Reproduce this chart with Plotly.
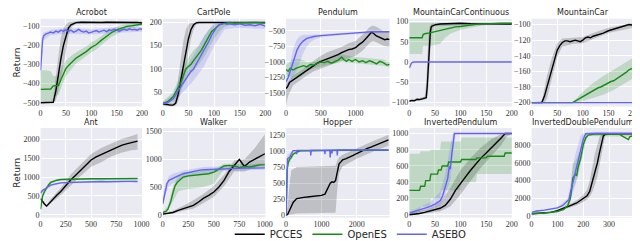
import plotly.graph_objects as go

# ---------------- Acrobot ----------------
ACRO_X_PCCES = [0,10,20,25,30,35,40,45,50,55,60,65,70,80,90,100,110,120,130,140,150,160,170,180,190,200]
ACRO_PCCES = [-500,-500,-500,-498,-440,-350,-270,-200,-150,-108,-92,-85,-80,-78,-79,-77,-78,-80,-78,-79,-80,-78,-79,-80,-79,-82]
ACRO_PCCES_LO = [-500,-500,-500,-500,-490,-440,-380,-310,-230,-150,-110,-95,-88,-84,-85,-83,-84,-86,-84,-85,-86,-84,-85,-86,-85,-88]
ACRO_PCCES_HI = [-500,-500,-495,-470,-360,-250,-160,-110,-90,-80,-77,-75,-73,-72,-73,-71,-72,-74,-72,-73,-74,-72,-73,-74,-73,-76]

ACRO_X_OPENES = [0,10,20,25,35,40,45,50,55,60,65,70,80,90,100,110,120,130,140,150,160,170,180,190,200]
ACRO_OPENES = [-430,-430,-428,-412,-410,-380,-345,-320,-305,-292,-280,-266,-249,-232,-210,-195,-172,-152,-132,-118,-108,-100,-97,-92,-88]
ACRO_OPENES_LO = [-500,-500,-500,-470,-460,-430,-390,-360,-340,-325,-310,-295,-275,-255,-235,-220,-198,-175,-155,-140,-128,-115,-108,-102,-97]
ACRO_OPENES_HI = [-330,-330,-335,-360,-360,-330,-300,-280,-265,-255,-245,-235,-220,-205,-185,-170,-148,-130,-112,-100,-92,-88,-85,-82,-80]

ACRO_X_ASEBO = [0,2,4,6,10,15,20,25,30,35,40,45,50,55,60,65,70,75,80,85,90,95,100,105,110,115,120,125,130,135,140,145,150,155,160,165,170,175,180,185,190,195,200]
ACRO_ASEBO = [-330,-220,-170,-150,-140,-135,-130,-135,-125,-130,-120,-125,-118,-125,-120,-130,-125,-115,-125,-130,-125,-135,-130,-128,-122,-130,-125,-120,-128,-118,-122,-115,-120,-125,-118,-115,-120,-113,-118,-115,-120,-113,-115]
ACRO_BX_ASEBO = [0,5,20,50,100,150,200]
ACRO_ASEBO_LO = [-380,-175,-145,-138,-142,-133,-128]
ACRO_ASEBO_HI = [-280,-135,-118,-108,-115,-105,-102]

# ---------------- CartPole ----------------
CP_X_PCCES = [0,5,10,15,20,25,30,35,40,45,50,55,60,65,70,100,150,200]
CP_PCCES = [25,24,22,22,22,26,45,75,100,135,165,185,195,199,200,200,200,200]
CP_PCCES_LO = [22,20,19,19,19,21,30,50,70,100,135,165,185,195,198,200,200,200]
CP_PCCES_HI = [28,28,26,26,27,40,80,130,160,185,196,199,200,200,200,200,200,200]

CP_X_OPENES = [0,10,20,25,30,35,40,45,50,55,60,65,70,75,80,85,90,95,100,105,110,115,120,130,140,160,180,200]
CP_OPENES = [25,30,40,50,60,70,85,100,105,110,118,125,132,140,150,160,170,180,185,190,195,197,198,200,199,200,200,199]
CP_BX_OPENES = [0,20,30,40,50,60,70,80,90,100,110,120,140,200]
CP_OPENES_LO = [20,30,45,65,85,95,110,125,145,165,180,190,198,198]
CP_OPENES_HI = [30,50,75,105,125,140,150,170,185,195,198,200,200,200]

CP_X_ASEBO = [0,10,20,25,30,35,40,45,50,55,60,65,70,75,80,85,90,95,100,105,110,115,120,125,130,140,150,160,170,180,190,200]
CP_ASEBO = [25,28,35,45,55,62,70,78,85,95,100,110,120,128,138,148,160,172,182,190,195,197,198,196,197,195,197,194,195,193,196,192]
CP_BX_ASEBO = [0,20,40,60,80,100,120,140,160,200]
CP_ASEBO_LO = [22,28,50,75,105,150,185,188,188,186]
CP_ASEBO_HI = [28,45,95,130,170,200,200,200,199,198]

# ---------------- Pendulum ----------------
PEN_X_PCCES = [0,20,50,100,150,200,250,300,350,400,450,500,550,600,650,700,750,800,850,900,950,1000,1050,1100,1150,1200,1230,1260,1300,1340,1380,1420,1460,1490]
PEN_PCCES = [-1430,-1400,-1330,-1290,-1250,-1220,-1180,-1130,-1100,-1060,-1020,-990,-970,-950,-920,-900,-880,-850,-820,-800,-790,-770,-720,-680,-620,-560,-520,-540,-580,-600,-620,-640,-630,-640]
PEN_BX_PCCES = [0,30,100,200,300,400,500,600,700,800,900,1000,1100,1200,1250,1300,1400,1490]
PEN_PCCES_LO = [-1700,-1550,-1380,-1300,-1220,-1150,-1100,-1060,-1020,-980,-940,-900,-820,-700,-660,-680,-740,-760]
PEN_PCCES_HI = [-1380,-1320,-1220,-1150,-1060,-980,-900,-840,-800,-760,-700,-660,-560,-440,-410,-430,-500,-520]

PEN_X_OPENES = [0,30,60,100,150,200,250,300,350,400,450,500,550,600,650,700,750,800,830,870,900,950,1000,1050,1100,1150,1200,1250,1300,1350,1400,1450,1490]
PEN_OPENES = [-1120,-1150,-1100,-1130,-1100,-1080,-1060,-1080,-1040,-1050,-1020,-1000,-1010,-990,-1020,-1000,-970,-920,-960,-990,-960,-990,-960,-1000,-980,-1010,-980,-1000,-1030,-990,-1010,-1050,-1040]
PEN_BX_OPENES = [0,100,200,300,400,600,800,1000,1200,1400,1490]
PEN_OPENES_LO = [-1200,-1300,-1250,-1150,-1100,-1050,-1000,-1030,-1040,-1060,-1090]
PEN_OPENES_HI = [-1050,-950,-950,-1000,-990,-950,-880,-920,-940,-960,-1000]

PEN_X_ASEBO = [0,30,60,100,130,160,200,250,300,350,400,500,600,700,800,900,1000,1100,1200,1300,1400,1490]
PEN_ASEBO = [-1320,-1250,-1150,-1000,-900,-800,-720,-660,-620,-600,-590,-575,-565,-555,-545,-540,-530,-520,-515,-512,-512,-512]
PEN_BX_ASEBO = [0,50,100,150,200,250,300,350,400,500,800,1490]
PEN_ASEBO_LO = [-1400,-1350,-1250,-1150,-1000,-850,-750,-680,-640,-600,-565,-525]
PEN_ASEBO_HI = [-1250,-1100,-800,-650,-580,-560,-560,-560,-560,-555,-530,-500]

# ---------------- MountainCarContinuous ----------------
MCC_X_PCCES = [0,5,10,15,20,25,30,33,35,37,39,41,43,46,50,60,80,100,120,150,180,200]
MCC_PCCES = [-97,-95,-96,-92,-93,-91,-90,-88,-60,-10,40,75,88,90,92,94,95,96,95,95,94,94]
MCC_BX_PCCES = [0,30,33,35,37,39,41,43,46,50,200]
MCC_PCCES_LO = [-99,-93,-92,-90,-70,-30,20,70,85,89,92]
MCC_PCCES_HI = [-94,-86,-50,10,60,85,92,94,95,96,97]

MCC_X_OPENES = [0,10,20,25,27,30,40,50,60,70,80,90,100,110,120,130,140,150,160,180,200]
MCC_OPENES = [60,60,60,60,68,70,72,75,78,82,85,87,88,90,92,93,94,95,95,96,96]
MCC_OPENES_LO = [20,20,20,20,40,40,40,42,45,60,70,75,80,82,85,88,90,93,93,94,94]
MCC_OPENES_HI = [97,97,97,97,97,98,98,98,98,98,98,98,98,98,98,98,98,98,98,98,98]

MCC_X_ASEBO = [0,2,4,6,10,200]
MCC_ASEBO = [-15,-8,-3,-1,0,0]

# ---------------- MountainCar ----------------
MC_X_PCCES = [0,10,20,25,30,35,40,45,50,55,60,65,70,75,80,85,90,95,100,105,110,115,120,130,140,150,160,170,180,190,200]
MC_PCCES = [-200,-200,-200,-192,-180,-168,-155,-143,-133,-127,-123,-121,-121,-122,-121,-120,-121,-122,-120,-117,-116,-117,-115,-113,-111,-108,-106,-103,-101,-100,-101]
MC_BX_PCCES = [0,20,25,30,40,50,60,80,100,120,150,200]
MC_PCCES_LO = [-200,-200,-200,-195,-168,-142,-128,-125,-124,-119,-111,-104]
MC_PCCES_HI = [-200,-198,-182,-166,-142,-124,-118,-117,-116,-111,-104,-98]

MC_X_OPENES = [0,80,85,90,95,100,105,110,115,120,125,130,135,140,145,150,155,160,165,170,175,180,185,190,195,200]
MC_OPENES = [-200,-200,-198,-196,-194,-192,-190,-188,-186,-185,-183,-181,-180,-178,-177,-175,-173,-172,-170,-167,-165,-163,-161,-158,-156,-155]
MC_BX_OPENES = [0,80,100,120,140,160,180,200]
MC_OPENES_LO = [-200,-200,-198,-194,-190,-184,-176,-168]
MC_OPENES_HI = [-200,-200,-186,-175,-166,-158,-149,-142]

MC_X_ASEBO = [0,200]
MC_ASEBO = [-200,-200]

# ---------------- Ant ----------------
ANT_X_PCCES = [0,20,40,60,80,100,130,160,200,250,300,350,400,450,500,550,600,650,700,750,800,850,900,960]
ANT_PCCES = [430,350,280,230,290,360,440,520,620,780,930,1060,1200,1340,1460,1540,1600,1670,1740,1790,1850,1890,1930,1960]
ANT_BX_PCCES = [0,60,100,200,300,400,500,600,700,800,900,960]
ANT_PCCES_LO = [420,200,300,520,780,1040,1280,1400,1550,1650,1720,1730]
ANT_PCCES_HI = [450,260,420,720,1080,1360,1620,1780,1900,2020,2100,2150]

ANT_X_OPENES = [0,10,20,40,60,80,100,130,160,200,300,400,500,600,700,800,900,960]
ANT_OPENES = [150,400,500,620,720,800,860,900,920,940,950,955,960,960,962,962,965,965]
ANT_BX_OPENES = [0,20,60,100,200,960]
ANT_OPENES_LO = [100,430,680,830,920,945]
ANT_OPENES_HI = [200,570,760,890,960,985]

ANT_X_ASEBO = [0,20,50,80,100,130,160,200,250,300,350,400,450,500,550,600,650,700,750,800,850,900,960]
ANT_ASEBO = [580,650,700,760,790,810,830,850,855,860,870,875,872,880,878,885,880,878,885,882,888,890,885]
ANT_BX_ASEBO = [0,50,100,200,500,960]
ANT_ASEBO_LO = [520,660,760,825,855,865]
ANT_ASEBO_HI = [640,740,820,875,905,910]

# ---------------- Walker ----------------
WK_X_PCCES = [0,50,100,150,200,250,300,350,400,450,500,550,600,650,700,750,780,800,850,900,950,1000]
WK_PCCES = [10,20,40,80,110,140,170,230,300,350,410,500,620,780,900,1000,920,870,950,1000,1050,1100]
WK_BX_PCCES = [0,100,200,300,400,500,600,700,800,900,1000]
WK_PCCES_LO = [0,20,70,110,220,320,520,780,780,850,900]
WK_PCCES_HI = [30,70,160,260,380,520,720,980,1000,1200,1450]

WK_X_OPENES = [0,30,50,80,100,120,140,160,200,250,300,350,400,450,500,550,600,650,700,750,800,850,900,950,1000]
WK_OPENES = [40,60,100,250,400,520,580,620,680,700,710,720,730,740,770,830,880,890,880,850,870,860,880,900,900]
WK_BX_OPENES = [0,50,100,150,200,300,400,500,600,700,800,1000]
WK_OPENES_LO = [30,70,250,420,450,480,500,560,820,840,830,860]
WK_OPENES_HI = [50,160,520,700,760,780,790,820,920,920,910,930]

WK_X_ASEBO = [0,10,20,40,60,100,150,200,250,300,350,400,450,500,550,600,650,700,750,800,850,900,950,1000]
WK_ASEBO = [200,300,420,560,620,660,700,740,760,790,800,810,815,820,825,830,830,835,835,840,840,842,845,845]
WK_BX_ASEBO = [0,20,60,100,200,400,600,800,1000]
WK_ASEBO_LO = [150,330,520,570,660,740,790,800,810]
WK_ASEBO_HI = [300,520,700,740,800,860,870,880,880]

# ---------------- Hopper ----------------
HOP_X_PCCES = [0,50,100,150,200,300,400,500,600,700,800,900,1000,1100,1150,1200,1250,1300,1350,1400,1450,1500,1550,1600,1700,1800,1900,2000,2100,2200,2300,2400,2500,2600,2700,2800,2900]
HOP_PCCES = [0,20,80,150,200,260,275,280,285,290,295,300,310,330,380,440,500,520,510,540,700,800,830,860,880,900,930,960,990,1010,1040,1060,1080,1110,1130,1150,1170]
HOP_BX_PCCES = [0,50,100,150,300,1400,1450,1500,1600,2000,2500,2900]
HOP_PCCES_LO = [0,0,10,20,30,40,400,650,760,880,1000,1080]
HOP_PCCES_HI = [0,200,500,700,750,770,850,900,940,1040,1160,1250]

HOP_X_OPENES = [0,30,60,100,150,200,300,400,500,700,1000,1500,2000,2500,2900]
HOP_OPENES = [0,700,820,870,900,950,980,1000,1000,1005,1005,1010,1010,1010,1010]
HOP_OPENES_LO = [0,600,760,830,870,930,965,985,990,995,995,1000,1000,1000,1000]
HOP_OPENES_HI = [0,800,880,910,930,970,995,1015,1010,1015,1015,1020,1020,1020,1020]

HOP_X_ASEBO = [0,20,40,100,200,290,300,310,690,700,710,1090,1100,1110,1240,1250,1260,1290,1300,1310,1440,1450,1460,2900]
HOP_ASEBO = [0,850,880,900,1005,1008,950,1008,1010,930,1010,1010,950,1010,1012,900,1012,1012,960,1012,1012,930,1014,1015]
HOP_BX_ASEBO = [0,20,40,100,200,2900]
HOP_ASEBO_LO = [0,750,850,880,995,1005]
HOP_ASEBO_HI = [0,900,950,960,1015,1022]

# ---------------- InvertedPendulum ----------------
IP_X_PCCES = [0,10,20,30,40,50,60,70,80,90,100,110,120,130,140,150,160,170,180,187,200]
IP_PCCES = [0,5,15,30,45,60,80,115,190,300,390,470,550,630,700,760,820,880,950,1000,1000]
IP_BX_PCCES = [0,40,60,80,100,120,140,160,180,190,200]
IP_PCCES_LO = [0,20,40,100,250,420,580,720,860,960,1000]
IP_PCCES_HI = [10,80,150,330,550,700,830,930,1000,1000,1000]

IP_X_OPENES = [0,20,22,30,32,40,42,55,57,62,64,75,77,100,102,130,132,150,152,185,187,200]
IP_OPENES = [300,300,350,350,420,420,500,500,550,550,600,600,650,650,680,680,700,700,720,720,760,760]
IP_BX_OPENES = [0,20,22,40,42,60,62,100,102,130,132,200]
IP_OPENES_LO = [0,0,100,100,200,200,300,300,400,400,500,500]
IP_OPENES_HI = [750,750,780,780,800,800,900,900,950,950,950,950]

IP_X_ASEBO = [0,10,20,30,40,50,60,65,70,75,78,80,83,86,88,200]
IP_ASEBO = [20,40,60,80,100,130,170,230,350,450,600,560,750,900,1000,1000]
IP_BX_ASEBO = [0,40,60,70,80,85,90,200]
IP_ASEBO_LO = [10,60,110,250,420,750,1000,1000]
IP_ASEBO_HI = [40,150,280,500,850,1000,1000,1000]

# ---------------- InvertedDoublePendulum ----------------
IDP_X_PCCES = [0,25,50,75,100,125,150,175,200,215,225,235,245,255,262,270,278,285,300,350,397]
IDP_PCCES = [300,330,380,450,650,900,1200,1500,1950,2300,2800,3800,5000,6000,7000,8000,9000,9200,9250,9250,9250]
IDP_PCCES_LO = [280,310,350,400,550,750,1000,1250,1600,1900,2200,2700,3500,4500,5500,6800,8000,9000,9200,9250,9250]
IDP_PCCES_HI = [320,350,410,500,750,1050,1400,1800,2400,3000,4000,5500,7000,8000,8800,9200,9250,9250,9250,9250,9250]

IDP_X_OPENES = [0,50,100,125,140,150,155,160,170,175,180,190,200,210,220,240,300,340,350,360,370,375,380,390,397]
IDP_OPENES = [300,380,550,800,1200,2000,3000,4300,4700,4600,5500,6500,8000,8800,9100,9200,9200,9200,9000,8800,8700,8600,8900,9000,9100]
IDP_BX_OPENES = [0,100,140,150,160,170,180,190,200,210,220,397]
IDP_OPENES_LO = [280,500,1000,1500,3000,3800,4500,5800,7200,8400,9000,8900]
IDP_OPENES_HI = [320,600,1500,3000,6000,6200,6800,7500,8600,9100,9250,9250]

IDP_X_ASEBO = [0,20,50,80,100,120,140,145,150,160,170,180,190,200,205,210,250,300,350,397]
IDP_ASEBO = [450,600,700,800,950,1200,1700,1900,2600,3800,5200,6500,7700,8600,9000,9250,9300,9300,9300,9300]
IDP_BX_ASEBO = [0,100,140,150,160,170,180,190,200,210,397]
IDP_ASEBO_LO = [400,850,1500,1800,2500,3500,4800,6000,7500,9000,9250]
IDP_ASEBO_HI = [550,1050,2000,3500,5500,7000,8000,9000,9300,9350,9350]

TITLES = ["Acrobot", "CartPole", "Pendulum", "MountainCarContinuous", "MountainCar",
          "Ant", "Walker", "Hopper", "InvertedPendulum", "InvertedDoublePendulum"]
SERIES_NAMES = ["PCCES", "OpenES", "ASEBO"]

# ---------------- styling ----------------
LINE_COLORS = {"PCCES": "#000000", "OpenES": "#178a17", "ASEBO": "#6464ec"}
FILL_COLORS = {"PCCES": "rgba(0,0,0,0.18)", "OpenES": "rgba(23,138,23,0.2)", "ASEBO": "rgba(100,100,236,0.2)"}

W, H = 640, 241
COLS_PX = [(31, 134), (155, 259), (280, 385), (405, 509), (529, 633)]
ROWS_PX = [(10, 100), (122, 214)]
TITLE_Y_PX = [4, 116]

panels = [
    dict(xr=[0, 200], yr=[-520, -60], xd=50, yd=100,
         s={"PCCES": (ACRO_X_PCCES, ACRO_PCCES, ACRO_X_PCCES, ACRO_PCCES_LO, ACRO_PCCES_HI),
            "OpenES": (ACRO_X_OPENES, ACRO_OPENES, ACRO_X_OPENES, ACRO_OPENES_LO, ACRO_OPENES_HI),
            "ASEBO": (ACRO_X_ASEBO, ACRO_ASEBO, ACRO_BX_ASEBO, ACRO_ASEBO_LO, ACRO_ASEBO_HI)}),
    dict(xr=[0, 200], yr=[19, 208], xd=50, yd=50,
         s={"PCCES": (CP_X_PCCES, CP_PCCES, CP_X_PCCES, CP_PCCES_LO, CP_PCCES_HI),
            "OpenES": (CP_X_OPENES, CP_OPENES, CP_BX_OPENES, CP_OPENES_LO, CP_OPENES_HI),
            "ASEBO": (CP_X_ASEBO, CP_ASEBO, CP_BX_ASEBO, CP_ASEBO_LO, CP_ASEBO_HI)}),
    dict(xr=[0, 1490], yr=[-1718, -303], xd=500, yd=250,
         s={"PCCES": (PEN_X_PCCES, PEN_PCCES, PEN_BX_PCCES, PEN_PCCES_LO, PEN_PCCES_HI),
            "OpenES": (PEN_X_OPENES, PEN_OPENES, PEN_BX_OPENES, PEN_OPENES_LO, PEN_OPENES_HI),
            "ASEBO": (PEN_X_ASEBO, PEN_ASEBO, PEN_BX_ASEBO, PEN_ASEBO_LO, PEN_ASEBO_HI)}),
    dict(xr=[0, 200], yr=[-110, 107], xd=50, yd=50,
         s={"PCCES": (MCC_X_PCCES, MCC_PCCES, MCC_BX_PCCES, MCC_PCCES_LO, MCC_PCCES_HI),
            "OpenES": (MCC_X_OPENES, MCC_OPENES, MCC_X_OPENES, MCC_OPENES_LO, MCC_OPENES_HI),
            "ASEBO": (MCC_X_ASEBO, MCC_ASEBO, None, None, None)}),
    dict(xr=[0, 200], yr=[-205, -92.6], xd=50, yd=20,
         s={"PCCES": (MC_X_PCCES, MC_PCCES, MC_BX_PCCES, MC_PCCES_LO, MC_PCCES_HI),
            "OpenES": (MC_X_OPENES, MC_OPENES, MC_BX_OPENES, MC_OPENES_LO, MC_OPENES_HI),
            "ASEBO": (MC_X_ASEBO, MC_ASEBO, None, None, None)}),
    dict(xr=[0, 1005], yr=[-78, 2312], xd=250, yd=500,
         s={"PCCES": (ANT_X_PCCES, ANT_PCCES, ANT_BX_PCCES, ANT_PCCES_LO, ANT_PCCES_HI),
            "OpenES": (ANT_X_OPENES, ANT_OPENES, ANT_BX_OPENES, ANT_OPENES_LO, ANT_OPENES_HI),
            "ASEBO": (ANT_X_ASEBO, ANT_ASEBO, ANT_BX_ASEBO, ANT_ASEBO_LO, ANT_ASEBO_HI)}),
    dict(xr=[0, 1005], yr=[-53, 1565], xd=250, yd=500,
         s={"PCCES": (WK_X_PCCES, WK_PCCES, WK_BX_PCCES, WK_PCCES_LO, WK_PCCES_HI),
            "OpenES": (WK_X_OPENES, WK_OPENES, WK_BX_OPENES, WK_OPENES_LO, WK_OPENES_HI),
            "ASEBO": (WK_X_ASEBO, WK_ASEBO, WK_BX_ASEBO, WK_ASEBO_LO, WK_ASEBO_HI)}),
    dict(xr=[0, 2930], yr=[-35, 1356], xd=1000, yd=250,
         s={"PCCES": (HOP_X_PCCES, HOP_PCCES, HOP_BX_PCCES, HOP_PCCES_LO, HOP_PCCES_HI),
            "OpenES": (HOP_X_OPENES, HOP_OPENES, HOP_X_OPENES, HOP_OPENES_LO, HOP_OPENES_HI),
            "ASEBO": (HOP_X_ASEBO, HOP_ASEBO, HOP_BX_ASEBO, HOP_ASEBO_LO, HOP_ASEBO_HI)}),
    dict(xr=[0, 200], yr=[-36, 1068], xd=50, yd=200,
         s={"PCCES": (IP_X_PCCES, IP_PCCES, IP_BX_PCCES, IP_PCCES_LO, IP_PCCES_HI),
            "OpenES": (IP_X_OPENES, IP_OPENES, IP_BX_OPENES, IP_OPENES_LO, IP_OPENES_HI),
            "ASEBO": (IP_X_ASEBO, IP_ASEBO, IP_BX_ASEBO, IP_ASEBO_LO, IP_ASEBO_HI)}),
    dict(xr=[0, 397], yr=[-140, 9890], xd=100, yd=2000,
         s={"PCCES": (IDP_X_PCCES, IDP_PCCES, IDP_X_PCCES, IDP_PCCES_LO, IDP_PCCES_HI),
            "OpenES": (IDP_X_OPENES, IDP_OPENES, IDP_BX_OPENES, IDP_OPENES_LO, IDP_OPENES_HI),
            "ASEBO": (IDP_X_ASEBO, IDP_ASEBO, IDP_BX_ASEBO, IDP_ASEBO_LO, IDP_ASEBO_HI)}),
]

fig = go.Figure()
TICK_FONT = dict(family="Liberation Serif", size=8, color="#333333")
annotations = []

for i, p in enumerate(panels):
    r, c = divmod(i, 5)
    n = "" if i == 0 else str(i + 1)
    xa, ya = "x" + n, "y" + n
    x0, x1 = COLS_PX[c]
    t0, t1 = ROWS_PX[r]
    fig.layout["xaxis" + n] = dict(
        domain=[x0 / W, x1 / W], range=p["xr"], anchor=ya, dtick=p["xd"], tick0=0,
        showgrid=True, gridcolor="white", gridwidth=1, zeroline=False, showline=False,
        ticks="", tickfont=TICK_FONT, fixedrange=True)
    fig.layout["yaxis" + n] = dict(
        domain=[1 - t1 / H, 1 - t0 / H], range=p["yr"], anchor=xa, dtick=p["yd"], tick0=0,
        showgrid=True, gridcolor="white", gridwidth=1, zeroline=False, showline=False,
        ticks="", tickfont=TICK_FONT, fixedrange=True, tickformat="d")
    for name in SERIES_NAMES:
        lx, ly, bx, lo, hi = p["s"][name]
        if bx is not None:
            fig.add_trace(go.Scatter(
                x=list(bx) + list(bx)[::-1], y=list(hi) + list(lo)[::-1],
                fill="toself", fillcolor=FILL_COLORS[name], line=dict(width=0),
                mode="lines", hoverinfo="skip", showlegend=False, xaxis=xa, yaxis=ya))
    for name in SERIES_NAMES:
        lx, ly, bx, lo, hi = p["s"][name]
        fig.add_trace(go.Scatter(
            x=lx, y=ly, mode="lines", name=name,
            line=dict(color=LINE_COLORS[name], width=1.4),
            showlegend=(i == 0), legendgroup=name, xaxis=xa, yaxis=ya))
    annotations.append(dict(
        text=TITLES[i], x=(x0 + x1) / 2 / W, y=1 - TITLE_Y_PX[r] / H, xref="paper", yref="paper",
        xanchor="center", yanchor="middle", showarrow=False,
        font=dict(family="DejaVu Sans", size=8, color="#262626")))

for r in range(2):
    t0, t1 = ROWS_PX[r]
    annotations.append(dict(
        text="Return", x=7 / W, y=1 - (t0 + t1) / 2 / H, xref="paper", yref="paper",
        xanchor="center", yanchor="middle", textangle=-90, showarrow=False,
        font=dict(family="DejaVu Sans", size=9, color="#262626")))

fig.update_layout(
    width=W, height=H, margin=dict(l=0, r=0, t=0, b=0),
    paper_bgcolor="white", plot_bgcolor="#EAEAF2",
    annotations=annotations, showlegend=True,
    legend=dict(orientation="h", x=0.54, y=1 - 231 / H, xanchor="center", yanchor="middle",
                font=dict(family="DejaVu Sans", size=10, color="#262626"),
                bgcolor="rgba(0,0,0,0)", itemwidth=30, tracegroupgap=0),
)

fig.write_html("out.html")
